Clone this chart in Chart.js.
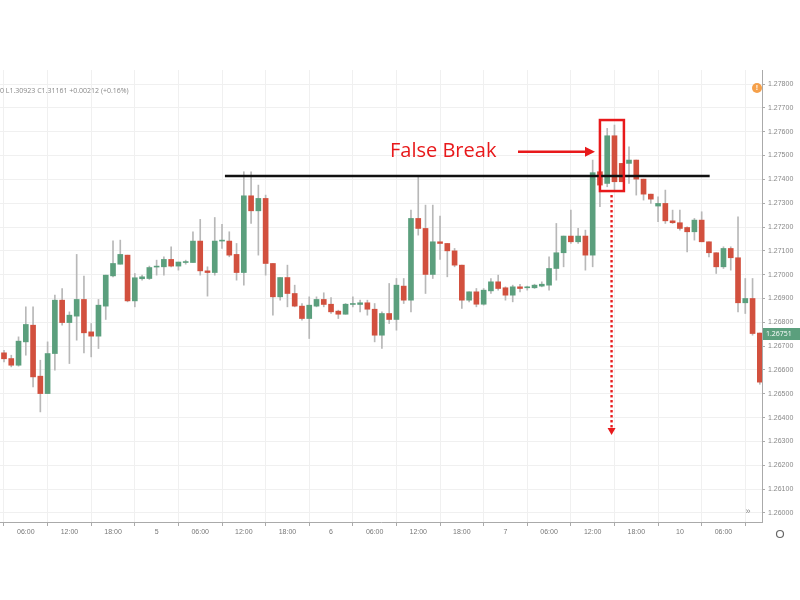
<!DOCTYPE html>
<html><head><meta charset="utf-8">
<script src="https://cdn.jsdelivr.net/npm/chart.js@4"></script>
<style>html,body{margin:0;padding:0;background:#fff}#w{width:800px;height:600px;position:relative}</style>
</head><body><div id="w"><canvas id="c"></canvas></div>
<script>
const opens = [1.26672,1.26648,1.26620,1.26718,1.26788,1.26574,1.26501,1.26669,1.26893,1.26799,1.26826,1.26896,1.26760,1.26742,1.26868,1.26995,1.27044,1.27082,1.26890,1.26983,1.26984,1.27032,1.27033,1.27064,1.27036,1.27051,1.27051,1.27141,1.27016,1.27009,1.27141,1.27141,1.27085,1.27009,1.27331,1.27268,1.27320,1.27047,1.26907,1.26988,1.26921,
1.26868,1.26816,1.26868,1.26896,1.26876,1.26847,1.26834,1.26875,1.26875,1.26882,1.26855,1.26746,1.26837,1.26812,1.26952,1.26893,1.27236,1.27194,1.27001,1.27138,1.27131,1.27100,1.27040,1.26893,1.26928,1.26876,1.26932,1.26970,1.26945,1.26914,1.26949,1.26945,1.26945,1.26952,1.26956,1.27026,1.27092,1.27162,1.27138,1.27162,1.27082,
1.27432,1.27383,1.27583,1.27467,1.27467,1.27481,1.27401,1.27338,1.27288,1.27299,1.27226,1.27218,1.27198,1.27180,1.27229,1.27138,1.27092,1.27033,1.27110,1.27071,1.26882,1.26900,1.26755];
const highs = [1.26683,1.26662,1.26739,1.26865,1.26865,1.26641,1.26718,1.26914,1.26942,1.26844,1.27085,1.26994,1.26795,1.26896,1.26998,1.27142,1.27145,1.27082,1.27005,1.26998,1.27036,1.27061,1.27075,1.27117,1.27053,1.27061,1.27180,1.27232,1.27033,1.27240,1.27211,1.27180,1.27131,1.27432,1.27432,1.27376,1.27334,1.27047,1.26988,1.27040,1.26956,
1.26879,1.26907,1.26907,1.26924,1.26904,1.26851,1.26879,1.26907,1.26893,1.26893,1.26879,1.26844,1.26963,1.26984,1.26984,1.27271,1.27411,1.27292,1.27292,1.27246,1.27131,1.27110,1.27040,1.26928,1.26942,1.26942,1.26984,1.26998,1.26949,1.26956,1.26960,1.26952,1.26960,1.26970,1.27075,1.27215,1.27162,1.27271,1.27194,1.27187,1.27481,
1.27432,1.27614,1.27628,1.27467,1.27537,1.27481,1.27401,1.27338,1.27327,1.27355,1.27271,1.27271,1.27201,1.27236,1.27264,1.27138,1.27092,1.27117,1.27117,1.27243,1.26984,1.26984,1.26755];
const lows = [1.26634,1.26613,1.26616,1.26662,1.26529,1.26424,1.26501,1.26599,1.26788,1.26627,1.26725,1.26672,1.26655,1.26690,1.26812,1.26991,1.27044,1.26886,1.26865,1.26977,1.26980,1.26998,1.26998,1.27033,1.27019,1.27044,1.27051,1.26998,1.26910,1.26998,1.27110,1.27075,1.26977,1.26956,1.27215,1.27082,1.26998,1.26830,1.26893,1.26865,1.26865,
1.26809,1.26732,1.26865,1.26865,1.26837,1.26816,1.26834,1.26865,1.26844,1.26830,1.26718,1.26690,1.26795,1.26767,1.26879,1.26844,1.27166,1.26921,1.26984,1.27064,1.26991,1.27033,1.26858,1.26886,1.26865,1.26872,1.26921,1.26935,1.26893,1.26886,1.26928,1.26935,1.26942,1.26949,1.26935,1.26977,1.27033,1.27131,1.27131,1.27019,1.27033,
1.27285,1.27369,1.27355,1.27390,1.27383,1.27334,1.27313,1.27299,1.27222,1.27215,1.27215,1.27187,1.27096,1.27145,1.27138,1.27075,1.27005,1.27026,1.27019,1.26844,1.26837,1.26746,1.26540];
const closes = [1.26647,1.26620,1.26721,1.26791,1.26571,1.26501,1.26669,1.26893,1.26799,1.26830,1.26896,1.26756,1.26742,1.26872,1.26998,1.27047,1.27085,1.26890,1.26987,1.26991,1.27030,1.27033,1.27064,1.27036,1.27053,1.27054,1.27141,1.27016,1.27009,1.27141,1.27142,1.27082,1.27009,1.27331,1.27268,1.27320,1.27047,1.26907,1.26988,1.26921,1.26868,
1.26816,1.26872,1.26896,1.26875,1.26844,1.26834,1.26876,1.26879,1.26882,1.26855,1.26746,1.26837,1.26812,1.26956,1.26893,1.27236,1.27194,1.27001,1.27138,1.27131,1.27100,1.27040,1.26893,1.26928,1.26876,1.26935,1.26970,1.26942,1.26914,1.26949,1.26942,1.26945,1.26956,1.26960,1.27026,1.27092,1.27162,1.27138,1.27162,1.27082,1.27428,
1.27376,1.27583,1.27390,1.27390,1.27481,1.27401,1.27338,1.27317,1.27299,1.27226,1.27218,1.27194,1.27180,1.27229,1.27138,1.27092,1.27033,1.27110,1.27071,1.26882,1.26900,1.26753,1.26549];
const xTickLabels = ["06:00","12:00","18:00","5","06:00","12:00","18:00","6","06:00","12:00","18:00","7","06:00","12:00","18:00","10","06:00"];
const resistanceLevel = 1.27414, resistanceFrom = 30.4, resistanceTo = 97.1;
const boxX = [82.0, 85.3], boxY = [1.27351, 1.27649];
const arrowX = 83.6, arrowTop = 1.27351, arrowBottom = 1.26327;
const lastPrice = "1.26751", lastPriceValue = 1.26751;
const headerText = "0 L1.30923 C1.31161 +0.00212 (+0.16%)";

const UP='#5b9f7d', DN='#d2503e';
const idx = opens.map((_,i)=>i);
const col = idx.map(i=> closes[i]>=opens[i]?UP:DN);
const wicks = idx.map(i=>({x:i,y:[lows[i],highs[i]]}));
const bodies = idx.map(i=>{let a=Math.min(opens[i],closes[i]),b=Math.max(opens[i],closes[i]); if(b-a<0.00004){b=a+0.00004;} return {x:i,y:[a,b]};});

const overlay = {id:'ov', afterDatasetsDraw(ch){
  const c=ch.ctx, xs=ch.scales.x, ys=ch.scales.y;
  c.save();
  c.strokeStyle='#111'; c.lineWidth=2.5;
  c.beginPath(); c.moveTo(xs.getPixelForValue(resistanceFrom), ys.getPixelForValue(resistanceLevel)); c.lineTo(xs.getPixelForValue(resistanceTo), ys.getPixelForValue(resistanceLevel)); c.stroke();
  const bx0=xs.getPixelForValue(boxX[0]), bx1=xs.getPixelForValue(boxX[1]), by0=ys.getPixelForValue(boxY[1]), by1=ys.getPixelForValue(boxY[0]);
  c.strokeStyle='#e8191b'; c.lineWidth=2.5; c.strokeRect(bx0,by0,bx1-bx0,by1-by0);
  const ax=xs.getPixelForValue(arrowX), at=ys.getPixelForValue(arrowTop), ab=ys.getPixelForValue(arrowBottom);
  c.fillStyle='#e8191b';
  for(let y=at+4;y<ab-6;y+=5){c.fillRect(ax-1.2,y,2.4,2.4);}
  c.beginPath(); c.moveTo(ax-4,ab-7); c.lineTo(ax+4,ab-7); c.lineTo(ax,ab); c.closePath(); c.fill();
  const ty=ys.getPixelForValue(1.27516);
  c.font='20px "Open Sans", "Liberation Sans", sans-serif'; c.textBaseline='middle'; c.textAlign='left';
  c.fillText('False Break',390,ty);
  c.strokeStyle='#e8191b'; c.lineWidth=2.5; c.beginPath(); c.moveTo(518,ty); c.lineTo(586,ty); c.stroke();
  c.beginPath(); c.moveTo(595,ty); c.lineTo(585,ty-5); c.lineTo(585,ty+5); c.closePath(); c.fill();
  c.fillStyle='#888'; c.font='7px "Open Sans", sans-serif'; c.fillText(headerText,0,91);
  const lp=ys.getPixelForValue(lastPriceValue);
  c.fillStyle='#5b9f7d'; c.fillRect(763,lp-6,37,12);
  c.fillStyle='#fff'; c.font='7px "Open Sans", sans-serif'; c.fillText(lastPrice,766,lp);
  c.fillStyle='#f5a04a'; c.beginPath(); c.arc(757,88,5,0,Math.PI*2); c.fill();
  c.fillStyle='#fff'; c.font='bold 7px sans-serif'; c.textAlign='center'; c.fillText('!',757,88);
  c.fillStyle='#888'; c.font='9px sans-serif'; c.fillText('»',748,512);
  c.strokeStyle='#666'; c.lineWidth=1.2; c.beginPath(); c.arc(780,534,3.5,0,Math.PI*2); c.stroke();
  c.restore();
}};

new Chart(document.getElementById('c'),{
  type:'bar',
  data:{datasets:[
    {data:wicks, backgroundColor:'#b8b8b8', barThickness:1, grouped:false, order:2},
    {data:bodies, backgroundColor:col, barThickness:5, grouped:false, order:1}
  ]},
  options:{responsive:true, maintainAspectRatio:false, animation:false,
    layout:{padding:{top:70,bottom:58,left:0,right:0}},
    plugins:{legend:{display:false},tooltip:{enabled:false}},
    scales:{
      x:{type:'linear', min:-0.55, max:104.3, offset:false,
        afterBuildTicks(s){s.ticks=xTickLabels.map((_,k)=>({value:3+6*k}));},
        afterFit(s){s.height=20;},
        ticks:{autoSkip:false, maxRotation:0, font:{size:7}, color:'#777', padding:2, callback:(v)=>xTickLabels[(v-3)/6]},
        grid:{color:'#f0f0f0', drawTicks:true, tickLength:4, tickColor:'#aaa'}, border:{color:'#aaa'}},
      y:{position:'right', min:1.25962, max:1.27859,
        afterBuildTicks(s){const t=[];for(let k=0;k<=18;k++)t.push({value:+(1.260+0.001*k).toFixed(3)});s.ticks=t;},
        afterFit(s){s.width=38;},
        ticks:{font:{size:7}, color:'#888', padding:3, callback:(v)=>v.toFixed(5)},
        grid:{color:'#f0f0f0', tickLength:3, tickColor:'#aaa'}, border:{color:'#aaa'}}
    }
  },
  plugins:[overlay]
});
</script></body></html>
